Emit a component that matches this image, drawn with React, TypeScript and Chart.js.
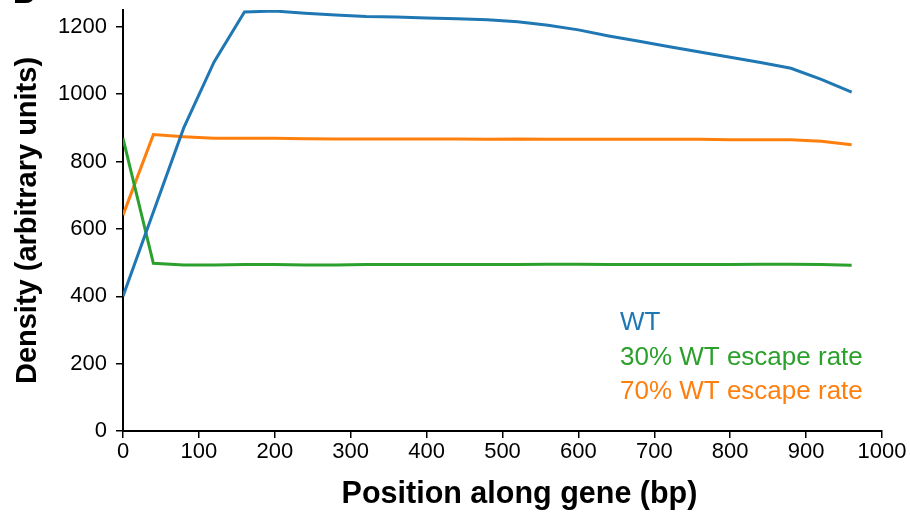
import React, { useEffect, useRef } from "react";
import { Chart, registerables } from "chart.js";

Chart.register(...registerables);

const positions = [0, 40, 80, 120, 160, 200, 240, 280, 320, 360, 400, 440, 480, 520, 560, 600, 640, 680, 720, 760, 800, 840, 880, 920, 960];
const wt = [400, 650, 900, 1096, 1244, 1247, 1240, 1235, 1231, 1229, 1226, 1224, 1221, 1215, 1205, 1191, 1173, 1157, 1141, 1125, 1110, 1094, 1077, 1044, 1006];
const esc30 = [869, 498, 493, 493, 494, 494, 493, 493, 494, 494, 494, 494, 494, 494, 495, 495, 494, 494, 494, 494, 494, 495, 495, 494, 492];
const esc70 = [641, 880, 874, 869, 869, 869, 868, 867, 867, 867, 867, 867, 866, 867, 866, 866, 866, 866, 866, 866, 865, 865, 865, 860, 850];
const seriesNames = ["WT", "30% WT escape rate", "70% WT escape rate"];
const seriesColors = ["#1f77b4", "#2ca02c", "#ff7f0e"];
const yTickValues = [0, 200, 400, 600, 800, 1000, 1200];
const xTitle = "Position along gene (bp)";
const yTitle = "Density (arbitrary units)";
const panelLabel = "B";

const FONT = "'Liberation Sans', Arial, Helvetica, sans-serif";

const textLegend = {
  id: "textLegend",
  afterDraw(chart: any) {
    const ctx = chart.ctx;
    const area = chart.chartArea;
    ctx.save();
    ctx.font = `26px ${FONT}`;
    ctx.textAlign = "left";
    ctx.textBaseline = "middle";
    seriesNames.forEach((name, i) => {
      ctx.fillStyle = seriesColors[i];
      ctx.fillText(name, area.left + 497, area.top + 313 + i * 34.5);
    });
    // x-axis title (offset to the right as in the reference)
    ctx.font = `bold 30.5px ${FONT}`;
    ctx.fillStyle = "#000";
    ctx.textAlign = "center";
    ctx.fillText(xTitle, (area.left + area.right) / 2 + 17, 495);
    ctx.font = `bold 30px ${FONT}`;
    ctx.textAlign = "left";
    ctx.textBaseline = "alphabetic";
    ctx.fillText(panelLabel, 13, 3);
    ctx.restore();
  },
};

export default function App() {
  const ref = useRef<HTMLCanvasElement | null>(null);
  useEffect(() => {
    if (!ref.current) return;
    const mk = (arr: number[]) => positions.map((x, i) => ({ x, y: arr[i] }));
    const datasets = [wt, esc30, esc70].map((arr, i) => ({
      label: seriesNames[i],
      data: mk(arr),
      borderColor: seriesColors[i],
      backgroundColor: seriesColors[i],
      borderWidth: 3,
      pointRadius: 0,
      tension: 0,
      fill: false,
    }));
    const chart = new Chart(ref.current, {
      type: "line",
      data: { datasets },
      options: {
        animation: false,
        responsive: false,
        maintainAspectRatio: false,
        layout: { padding: { left: 0, right: 28, top: 0, bottom: 0 } },
        plugins: { legend: { display: false }, tooltip: { enabled: false } },
        scales: {
          x: {
            type: "linear",
            min: 0,
            max: 1000,
            ticks: { stepSize: 100, color: "#000", font: { family: FONT, size: 22 }, padding: 1, maxRotation: 0, autoSkip: false, callback: (v: any) => String(v) },
            grid: { drawOnChartArea: false, drawTicks: true, tickLength: 7, color: "#000", lineWidth: 1.5 },
            border: { display: true, color: "#000", width: 2 },
            title: { display: false, text: xTitle },
            afterFit: (s: any) => { s.height = 86; },
          },
          y: {
            type: "linear",
            min: 0,
            max: 1250,
            afterBuildTicks: (s: any) => { s.ticks = yTickValues.map((v) => ({ value: v })); },
            ticks: { color: "#000", font: { family: FONT, size: 22 }, padding: 9, callback: (v: any) => String(v) },
            grid: { drawOnChartArea: false, drawTicks: true, tickLength: 7, color: "#000", lineWidth: 1.5 },
            border: { display: true, color: "#000", width: 2 },
            title: { display: true, text: yTitle, color: "#000", font: { family: FONT, size: 29, weight: "bold" }, padding: { top: 11, bottom: 0 } },
            afterFit: (s: any) => { s.width = 123; s.paddingTop = 10; },
          },
        },
      },
      plugins: [textLegend],
    });
    return () => chart.destroy();
  }, []);
  return (
    <div style={{ position: "fixed", left: 0, top: 0, width: 910, height: 517, background: "#fff" }}>
      <canvas ref={ref} width={910} height={517} style={{ width: 910, height: 517, display: "block" }} />
    </div>
  );
}
